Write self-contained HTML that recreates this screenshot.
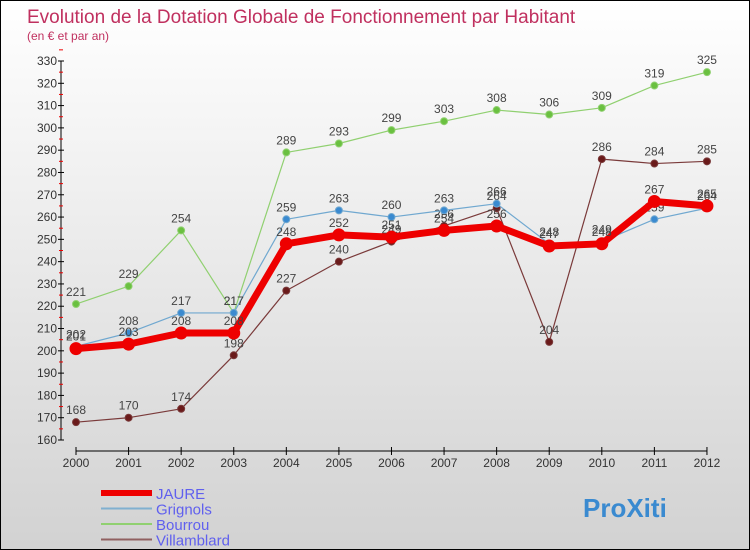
<!DOCTYPE html>
<html><head><meta charset="utf-8"><style>
body{margin:0}
#c{width:750px;height:550px;position:relative;box-sizing:border-box;border:1px solid #000;background:linear-gradient(#fff,#d2d2d2);font-family:"Liberation Sans",sans-serif;overflow:hidden}
</style></head><body>
<div id="c">
<svg id="s" width="750" height="550" style="position:absolute;left:0;top:0">
<text x="26" y="22" font-size="19" fill="#c0305f">Evolution de la Dotation Globale de Fonctionnement par Habitant</text>
<text x="26" y="39" font-size="12" fill="#c0305f">(en € et par an)</text>
</svg>
</div>
<script>
const years=[2000,2001,2002,2003,2004,2005,2006,2007,2008,2009,2010,2011,2012];
const jaure=[201,203,208,208,248,252,251,254,256,247,248,267,265];
const grignols=[202,208,217,217,259,263,260,263,266,248,249,259,264];
const bourrou=[221,229,254,217,289,293,299,303,308,306,309,319,325];
const villamblard=[168,170,174,198,227,240,249,256,264,204,286,284,285];
const yTicks=[160,170,180,190,200,210,220,230,240,250,260,270,280,290,300,310,320,330];
const NS='http://www.w3.org/2000/svg';
const s=document.getElementById('s');
const X=i=>75+i*52.58;
const Y=v=>439-(v-160)*(379/170);
function el(t,a,p){const e=document.createElementNS(NS,t);for(const k in a)e.setAttribute(k,a[k]);(p||s).appendChild(e);return e;}
const ax=el('g',{});


el('line',{x1:60,y1:Y(330),x2:60,y2:Y(160),stroke:'#000'},ax);
el('line',{x1:75,y1:450,x2:706,y2:450,stroke:'#000'},ax);
yTicks.forEach(v=>{
 el('line',{x1:57,x2:63,y1:Y(v),y2:Y(v),stroke:'#000'},ax);
 el('line',{x1:58,x2:62,y1:Y(v+5),y2:Y(v+5),stroke:'#e00'},ax);
 const t=el('text',{x:56,y:Y(v)+4,'font-size':12,fill:'#333','text-anchor':'end'},ax);t.textContent=v;
 
 
});
years.forEach((y,i)=>{
 el('line',{x1:X(i),x2:X(i),y1:446,y2:454,stroke:'#000'},ax);
 const t=el('text',{x:X(i),y:466,'font-size':12,fill:'#333','text-anchor':'middle'},ax);t.textContent=y;
 
 
});
function series(name,data,color,dot,w,r){
 const g=el('g',{});
 
 
 el('polyline',{points:data.map((v,i)=>X(i)+','+Y(v)).join(' '),fill:'none',stroke:color,'stroke-width':w,'stroke-linejoin':'round'},g);
 data.forEach((v,i)=>{
  const c=el('circle',{cx:X(i),cy:Y(v),r:r,fill:dot,stroke:color,'stroke-width':1},g);
  
  
  const t=el('text',{x:X(i),y:Y(v)-8,'font-size':12,fill:'#444','text-anchor':'middle'},g);t.textContent=v;
  
  
 });
}
series('villamblard',villamblard,'#7a3a3a','#6a1a1a',1.2,3.5);
series('bourrou',bourrou,'#90d070','#6ac040',1.2,3.5);
series('grignols',grignols,'#70a8d0','#3a8ad0',1.2,3.5);
series('jaure',jaure,'#ee0000','#ee0000',7,6);
const lg=el('g',{});


[['JAURE','#ee0000',6],['Grignols','#80b0d0',2],['Bourrou','#90d070',2],['Villamblard','#906060',2]].forEach((d,i)=>{
 const y=492+i*15.5;
 el('line',{x1:100,x2:151,y1:y,y2:y,stroke:d[1],'stroke-width':d[2]},lg);
 const t=el('text',{x:155,y:y+6,'font-size':15,fill:'#6060ee'},lg);t.textContent=d[0];
 
 
});
const p=el('text',{x:582,y:516,'font-size':26,'font-weight':'bold',fill:'#3a8ad0'});
p.textContent='ProXiti';


</script>
</body></html>
